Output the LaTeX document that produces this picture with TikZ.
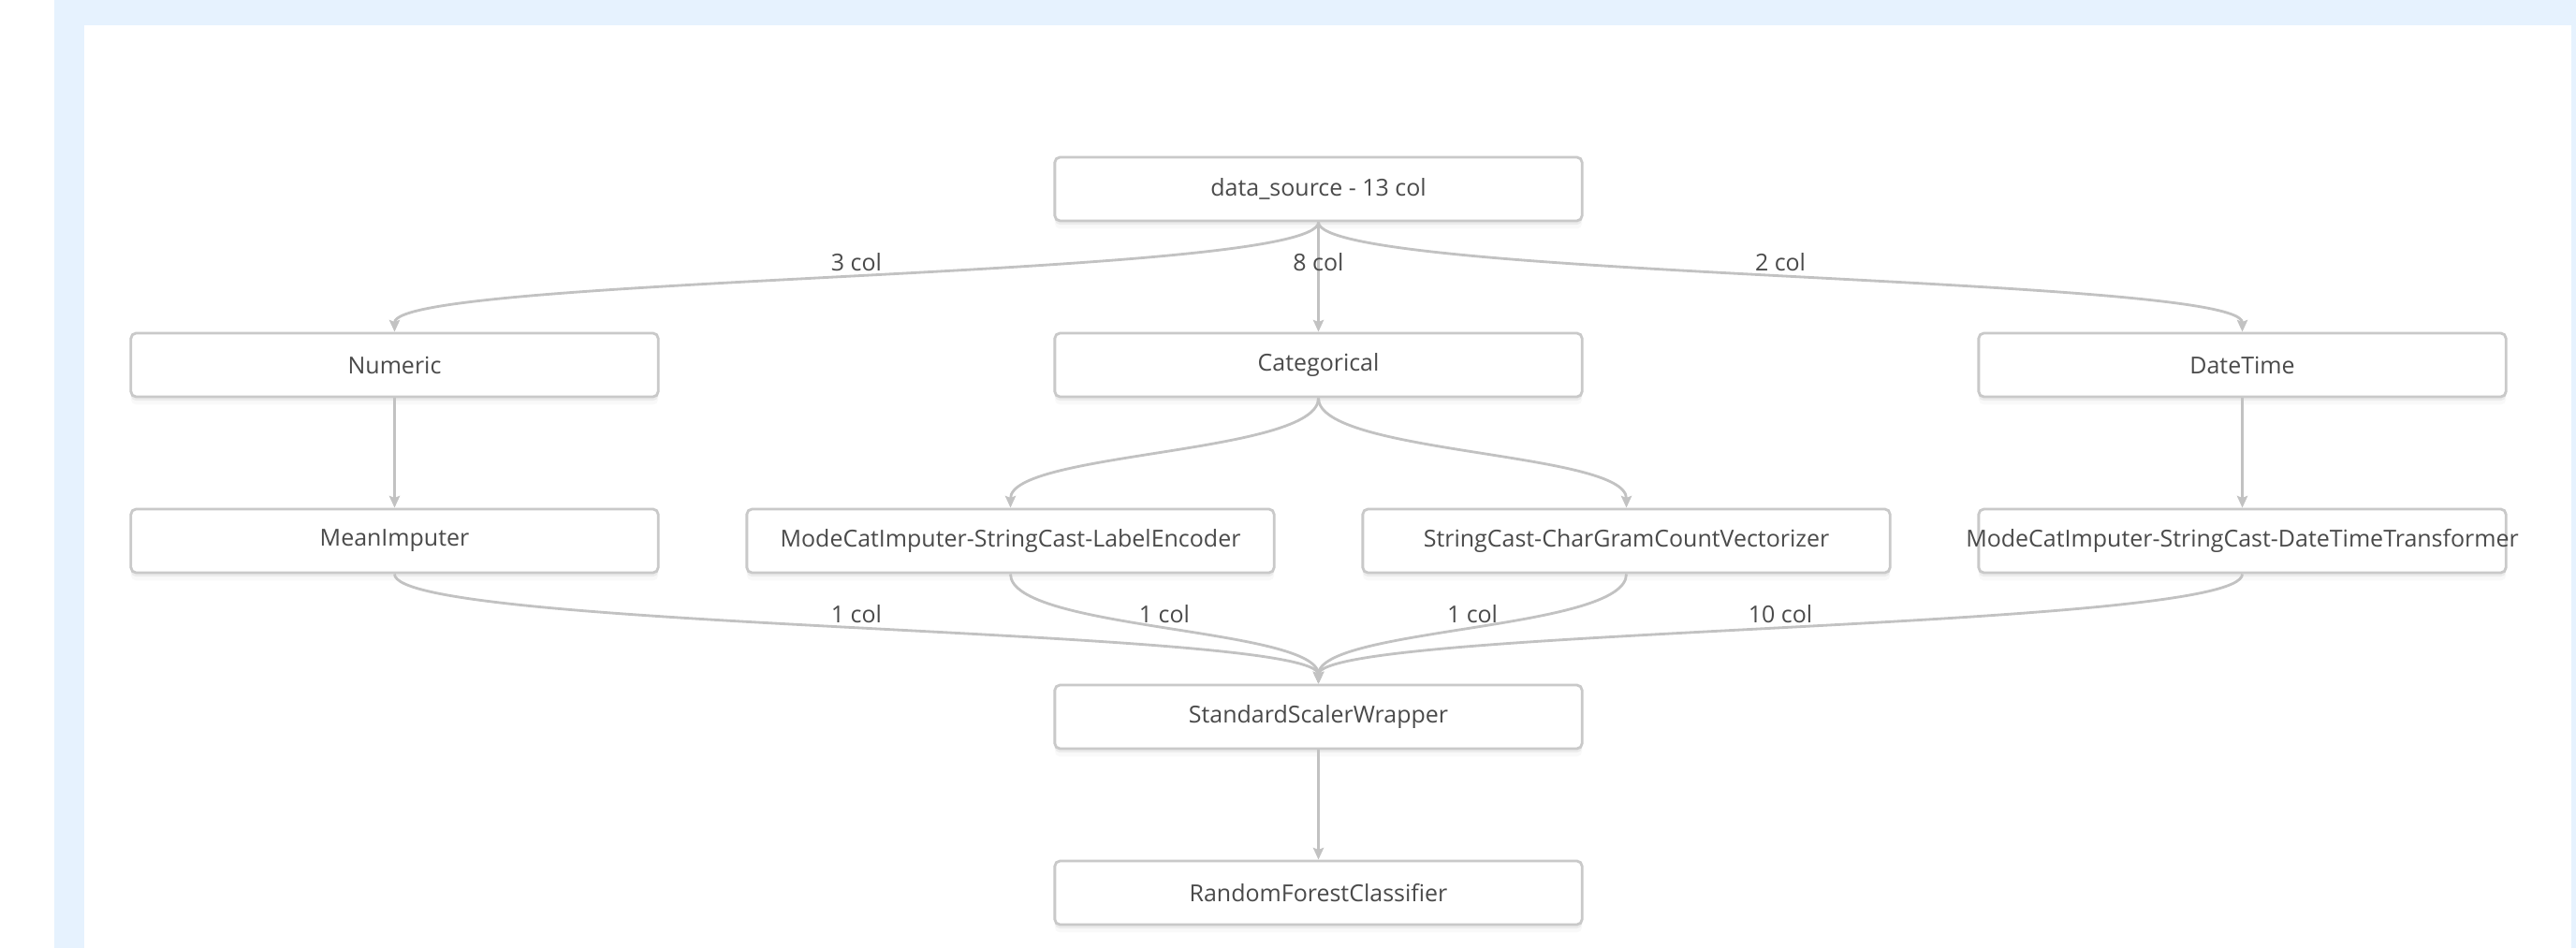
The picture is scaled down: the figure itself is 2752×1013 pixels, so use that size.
\documentclass[tikz,border=0pt]{standalone}
\usepackage{fontspec}
\setmainfont{Open Sans}
\usetikzlibrary{arrows.meta,shadows}
\definecolor{panelblue}{HTML}{E6F2FE}
\definecolor{boxline}{HTML}{C9C9C9}
\definecolor{edgegray}{HTML}{C2C2C2}
\definecolor{textgray}{HTML}{4A4A4A}
\tikzset{
  stage/.style={draw=boxline, line width=0.8pt, fill=white, rounded corners=1.6pt,
    minimum width=5.63cm, minimum height=0.68cm, inner sep=0pt, text=textgray,
    font=\fontsize{7.1}{8}\selectfont,
    drop shadow={shadow xshift=0pt, shadow yshift=-1.2pt, opacity=0.05, fill=black},
    drop shadow={shadow xshift=0pt, shadow yshift=-2.4pt, opacity=0.025, fill=black}},
  flow/.style={draw=edgegray, line width=0.8pt, -{Stealth[length=3.6pt,width=3.2pt,inset=0.6pt]}},
  colcount/.style={midway, yshift=4.6pt, inner sep=0pt, text=textgray,
    font=\fontsize{7.1}{8}\selectfont}
}
% label wider than its box
\newcommand{\overrun}[1]{\makebox[0pt]{#1}}

\begin{document}
\begin{tikzpicture}[x=0.01cm, y=-0.01cm]
    %%%%% PANEL %%%%%
    \fill[white] (0, 0) rectangle (2752, 1013);
    \fill[panelblue] (58, 0) rectangle (2752, 1013);
    \fill[white] (90, 27) rectangle (2747, 1013);
    \useasboundingbox (0, 0) rectangle (2752, 1013);

    %%%%% STAGES %%%%%
    \node[stage] (src) at (1408.5, 202) {data\_source - 13 col};

    \node[stage] (num) at (421.5, 390) {Numeric};
    \node[stage] (cat) at (1408.5, 390) {Categorical};
    \node[stage] (dt) at (2395.5, 390) {DateTime};

    \node[stage] (mean) at (421.5, 578) {MeanImputer};
    \node[stage] (lenc) at (1079.5, 578) {ModeCatImputer-StringCast-LabelEncoder};
    \node[stage] (cgram) at (1737.5, 578) {StringCast-CharGramCountVectorizer};
    \node[stage] (dtt) at (2395.5, 578) {\overrun{ModeCatImputer-StringCast-DateTimeTransformer}};

    \node[stage] (scal) at (1408.5, 766) {StandardScalerWrapper};
    \node[stage] (rfc) at (1408.5, 954) {RandomForestClassifier};

    %%%%% FLOWS %%%%%
    \draw[flow] (src.south) .. controls +(0, 60) and +(0, -60) .. (num.north) node[colcount] {3 col};
    \draw[flow] (src.south) -- (cat.north) node[colcount] {8 col};
    \draw[flow] (src.south) .. controls +(0, 60) and +(0, -60) .. (dt.north) node[colcount] {2 col};

    \draw[flow] (num.south) -- (mean.north);
    \draw[flow] (cat.south) .. controls +(0, 60) and +(0, -60) .. (lenc.north);
    \draw[flow] (cat.south) .. controls +(0, 60) and +(0, -60) .. (cgram.north);
    \draw[flow] (dt.south) -- (dtt.north);

    \draw[flow] (mean.south) .. controls +(0, 60) and +(0, -60) .. (scal.north) node[colcount] {1 col};
    \draw[flow] (lenc.south) .. controls +(0, 60) and +(0, -60) .. (scal.north) node[colcount] {1 col};
    \draw[flow] (cgram.south) .. controls +(0, 60) and +(0, -60) .. (scal.north) node[colcount] {1 col};
    \draw[flow] (dtt.south) .. controls +(0, 60) and +(0, -60) .. (scal.north) node[colcount] {10 col};

    \draw[flow] (scal.south) -- (rfc.north);
\end{tikzpicture}
\end{document}
